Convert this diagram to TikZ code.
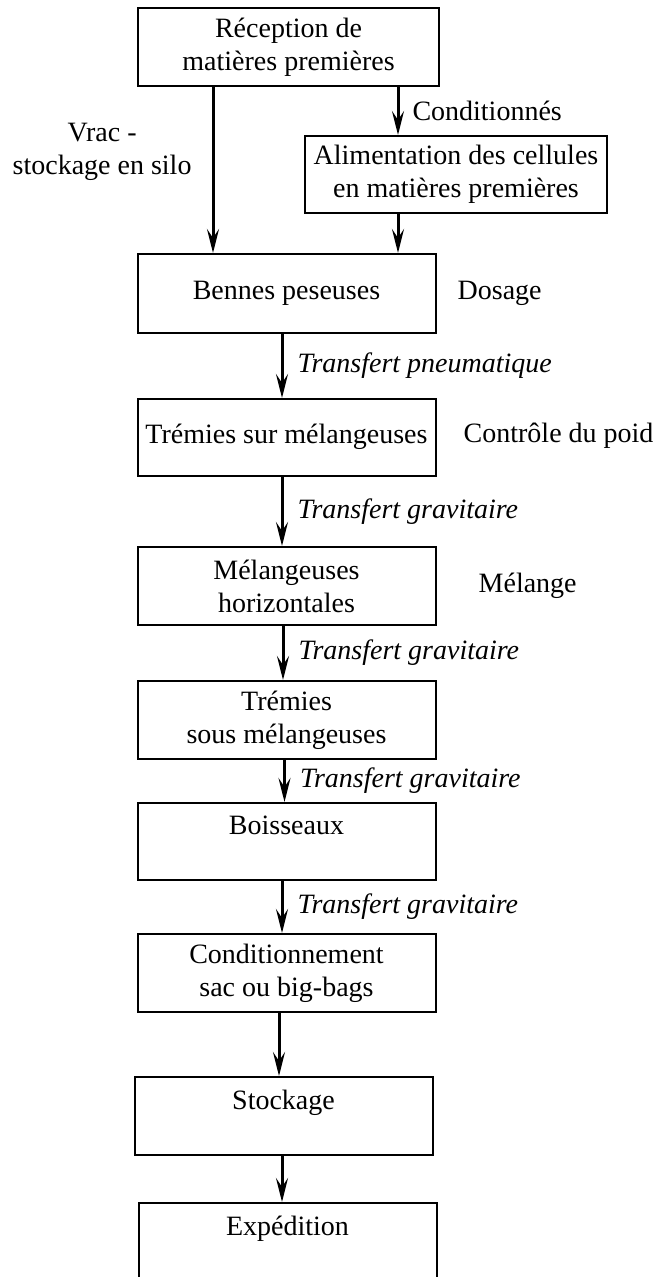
\documentclass[tikz,border=0pt]{standalone}
\usepackage{fontspec}
\setmainfont{Liberation Serif}
\usepackage{tikz}
\usetikzlibrary{
  arrows.meta,
  positioning,
  calc
}

\begin{document}
\begin{tikzpicture}[x=1pt,y=-1pt,
  every node/.style={font=\fontsize{28}{33}\selectfont},
  etape/.style={draw, line width=2pt, minimum width=298pt, minimum height=78pt, align=center, inner sep=0pt},
  fleche/.style={-{Stealth[length=24pt,width=12pt,inset=9pt]}, line width=3pt},
  lbl/.style={align=center, inner sep=0pt},
  transf/.style={lbl, font=\fontsize{28}{33}\selectfont\itshape}]
  \path[use as bounding box, clip] (0,0) rectangle (662,1277);

  % nodes
  \node[etape, minimum width=301pt] (recep) at (288.5,47) {Réception de\\matières premières};
  \node[etape, minimum width=302pt, minimum height=77pt] (alim) at (456,174.5) {Alimentation des cellules\\en matières premières};
  \node[etape, minimum height=79pt] (benne) at (286.5,293.5) {Bennes peseuses};
  \node[etape, minimum height=77pt] (tremsur) at (286.5,437.5) {\raisebox{8pt}{Trémies sur mélangeuses}};
  \node[etape] (melang) at (286.5,586) {Mélangeuses\\horizontales};
  \node[etape] (tremsous) at (286.5,720) {Trémies\\sous mélangeuses};
  \node[etape, minimum height=77pt] (boiss) at (286.5,841.5) {Boisseaux\\~};
  \node[etape] (condit) at (286.5,973) {Conditionnement\\sac ou big-bags};
  \node[etape] (stock) at (283.5,1116) {Stockage\\~};
  \node[etape] (exped) at (287.5,1242) {Expédition\\~};

  \node[lbl, right=21pt of benne] (dosage) {Dosage};
  \node[lbl, right=27pt of tremsur, yshift=2pt] (controle) {Contrôle du poid};
  \node[lbl, right=42pt of melang] (melange) {Mélange};

  % wires
  \draw[fleche] ([xshift=-75.5pt]recep.south) -- node[lbl, left=20pt, pos=0.39]{Vrac -\\stockage en silo} ([xshift=-75.5pt]recep.south |- benne.north);
  \draw[fleche] ([xshift=109.5pt]recep.south) -- node[lbl, right=13pt]{Conditionnés} ([xshift=109.5pt]recep.south |- alim.north);
  \draw[fleche] ([xshift=-58pt]alim.south) -- ([xshift=-58pt]alim.south |- benne.north);
  \draw[fleche] ([xshift=-4.5pt]benne.south) -- node[transf, right=14pt]{Transfert pneumatique} ([xshift=-4.5pt]benne.south |- tremsur.north);
  \draw[fleche] ([xshift=-4.5pt]tremsur.south) -- node[transf, right=14pt]{Transfert gravitaire} ([xshift=-4.5pt]tremsur.south |- melang.north);
  \draw[fleche] ([xshift=-3.5pt]melang.south) -- node[transf, right=14pt]{Transfert gravitaire} ([xshift=-3.5pt]melang.south |- tremsous.north);
  \draw[fleche] ([xshift=-2pt]tremsous.south) -- node[transf, right=14pt]{Transfert gravitaire} ([xshift=-2pt]tremsous.south |- boiss.north);
  \draw[fleche] ([xshift=-4.5pt]boiss.south) -- node[transf, right=14pt]{Transfert gravitaire} ([xshift=-4.5pt]boiss.south |- condit.north);
  \draw[fleche] ([xshift=-7.5pt]condit.south) -- ([xshift=-7.5pt]condit.south |- stock.north);
  \draw[fleche] ([xshift=-1.5pt]stock.south) -- ([xshift=-1.5pt]stock.south |- exped.north);
\end{tikzpicture}
\end{document}
